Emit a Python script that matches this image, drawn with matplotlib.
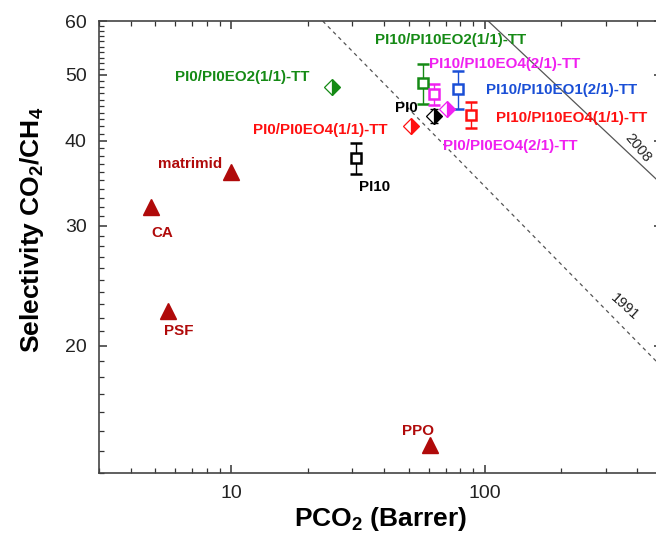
import matplotlib
matplotlib.use('Agg')
import matplotlib.pyplot as plt
from matplotlib.ticker import FixedLocator, NullFormatter

plt.rcParams['font.family'] = ['Liberation Sans', 'DejaVu Sans']
plt.rcParams['mathtext.fontset'] = 'custom'
plt.rcParams['mathtext.rm'] = 'Liberation Sans:bold'
plt.rcParams['mathtext.default'] = 'rm'

# colours
green = '#158a15'
magenta = '#f020f0'
blue = '#1a4fd6'
red = '#ff1010'
darkred = '#b00a0a'

# commercial polymers (filled triangles)
tri_names = ['CA', 'PSF', 'matrimid', 'PPO']
tri_p = [4.8, 5.6, 10.0, 61.0]
tri_sel = [32.0, 22.5, 36.0, 14.3]

# PI10 series (open squares with error bars)
sq_names = ['PI10', 'PI10/PI10EO2(1/1)-TT', 'PI10/PI10EO4(2/1)-TT',
            'PI10/PI10EO1(2/1)-TT', 'PI10/PI10EO4(1/1)-TT']
sq_p = [31.0, 57.0, 63.0, 78.0, 88.0]
sq_sel = [37.7, 48.6, 46.8, 47.6, 43.7]
sq_err = [2.0, 3.3, 1.6, 3.0, 1.9]
sq_colors = ['black', green, magenta, blue, red]

# PI0 series (half filled diamonds)
dia_names = ['PI0', 'PI0/PI0EO2(1/1)-TT', 'PI0/PI0EO4(1/1)-TT', 'PI0/PI0EO4(2/1)-TT']
dia_p = [63.0, 25.0, 51.0, 71.0]
dia_sel = [43.5, 48.0, 42.0, 44.5]
dia_err = [1.0, 0.0, 0.0, 0.0]
dia_colors = ['black', green, red, magenta]

# Robeson upper bounds (end points)
ub1991_p = [22.9, 500]
ub1991_sel = [60, 18.6]
ub2008_p = [103, 500]
ub2008_sel = [60, 34.5]

fig = plt.figure(figsize=(6.56, 5.38), dpi=100, facecolor='white')
ax = fig.add_axes([99 / 656, 65 / 538, 563 / 656, 452 / 538])
ax.set_xscale('log')
ax.set_yscale('log')
ax.set_xlim(3, 500)
ax.set_ylim(13, 60)

ax.plot(ub1991_p, ub1991_sel, ls=(0, (3, 3)), color='#555555', lw=0.9, zorder=1)
ax.plot(ub2008_p, ub2008_sel, ls='-', color='#555555', lw=0.9, zorder=1)

ax.plot(tri_p, tri_sel, ls='none', marker='^', ms=11, color=darkred, zorder=3)

for p, s, e, c in zip(sq_p, sq_sel, sq_err, sq_colors):
    ax.errorbar(p, s, yerr=e, fmt='s', ms=7, mfc='white', mec=c, mew=1.8,
                ecolor=c, elinewidth=1, capsize=4, capthick=1, zorder=4)

for p, s, e, c in zip(dia_p, dia_sel, dia_err, dia_colors):
    if e > 0:
        ax.errorbar(p, s, yerr=e, fmt='none', ecolor=c, elinewidth=1,
                    capsize=3, capthick=1, zorder=3)
    ax.plot(p, s, ls='none', marker='D', ms=8.5, fillstyle='right', color=c,
            markerfacecoloralt='white', mec=c, mew=0.9, zorder=4)

# text labels
lab_txt = ['PI10/PI10EO2(1/1)-TT', 'PI10/PI10EO4(2/1)-TT', 'PI10/PI10EO1(2/1)-TT',
           'PI10/PI10EO4(1/1)-TT', 'PI0/PI0EO4(2/1)-TT', 'PI0', 'PI0/PI0EO2(1/1)-TT',
           'PI0/PI0EO4(1/1)-TT', 'PI10', 'matrimid', 'CA', 'PSF', 'PPO']
lab_x = [73.5, 120, 201, 219, 125.6, 49.2, 11.05, 22.3, 36.7, 6.89, 5.34, 6.22, 54.3]
lab_y = [56.2, 51.9, 47.5, 43.2, 39.3, 44.7, 49.6, 41.5, 34.2, 37.0, 29.3, 21.0, 15.0]
lab_c = [green, magenta, blue, red, magenta, 'black', green, red, 'black',
         darkred, darkred, darkred, darkred]
for t, x, y, c in zip(lab_txt, lab_x, lab_y, lab_c):
    ax.text(x, y, t, color=c, fontsize=10.9, fontweight='bold',
            ha='center', va='center', zorder=5)

ax.text(357, 22.8, '1991', fontsize=10.5, color='#222222', rotation=-42,
        ha='center', va='center')
ax.text(400, 39.0, '2008', fontsize=10.5, color='#222222', rotation=-50,
        ha='center', va='center')

# axes and ticks
ax.xaxis.set_major_locator(FixedLocator([10, 100]))
ax.xaxis.set_minor_locator(FixedLocator([3, 4, 5, 6, 7, 8, 9, 20, 30, 40, 50,
                                         60, 70, 80, 90, 200, 300, 400]))
ax.xaxis.set_minor_formatter(NullFormatter())
ax.set_xticklabels(['10', '100'])
ax.yaxis.set_major_locator(FixedLocator([20, 30, 40, 50, 60]))
ax.yaxis.set_minor_locator(FixedLocator([v for v in range(13, 60) if v % 10 != 0]))
ax.yaxis.set_minor_formatter(NullFormatter())
ax.set_yticklabels(['20', '30', '40', '50', '60'])

ax.tick_params(which='both', direction='in', top=True, right=True,
               colors='#333333', labelcolor='#222222')
ax.tick_params(which='major', length=6, width=1.1, labelsize=14, pad=9)
ax.tick_params(which='minor', length=3.5, width=0.9)
for sp in ax.spines.values():
    sp.set_color('#444444')
    sp.set_linewidth(1.2)

fig.text(32 / 656, 1 - 230 / 538, r'Selectivity CO$_{2}$/CH$_{4}$', rotation=90,
         fontsize=19, fontweight='bold', ha='center', va='center')
fig.text(381 / 656, 1 - 519 / 538, r'PCO$_{2}$ (Barrer)', fontsize=19,
         fontweight='bold', ha='center', va='center')

fig.savefig('out.png', dpi=100, facecolor='white')
